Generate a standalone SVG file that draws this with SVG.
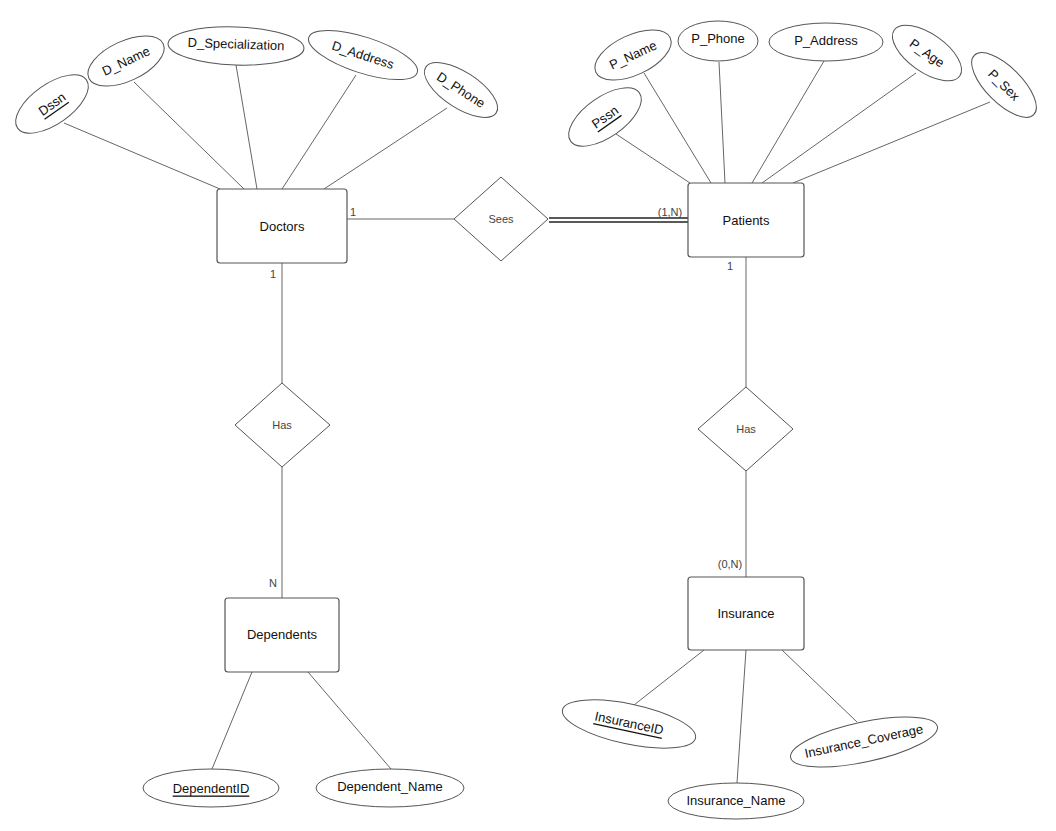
<svg xmlns="http://www.w3.org/2000/svg" width="1056" height="831" viewBox="0 0 1056 831">
<style>
.bg{fill:#ffffff}
.ent{fill:#ffffff;stroke:#555;stroke-width:1.2}
.attr{fill:#ffffff;stroke:#555;stroke-width:1}
.rel{fill:#ffffff;stroke:#555;stroke-width:1;stroke-linejoin:round}
.ln{stroke:#666;stroke-width:1;fill:none}
.dbl{stroke:#222;stroke-width:1.6;fill:none}
text{font-family:"Liberation Sans",Arial,sans-serif;text-anchor:middle;dominant-baseline:central}
.et{font-size:13px;fill:#111}
.at{font-size:13px;fill:#111}
.rt{font-size:11px;fill:#444}
.ct{font-size:11px;fill:#444}
.key{text-decoration:underline}
</style>
<rect class="bg" x="0" y="0" width="1056" height="831"/>
<g id="connectors">
<line class="ln" x1="64" y1="123" x2="220" y2="189"/>
<line class="ln" x1="134" y1="82" x2="244" y2="189"/>
<line class="ln" x1="236" y1="65" x2="257" y2="189"/>
<line class="ln" x1="356" y1="75" x2="282" y2="189"/>
<line class="ln" x1="447" y1="108" x2="324" y2="189"/>
<line class="ln" x1="347" y1="219" x2="454" y2="219"/>
<line class="dbl" x1="549" y1="218" x2="688" y2="218"/>
<line class="dbl" x1="549" y1="222" x2="688" y2="222"/>
<line class="ln" x1="282" y1="263" x2="282" y2="383"/>
<line class="ln" x1="282" y1="467" x2="282" y2="598"/>
<line class="ln" x1="252" y1="672" x2="212" y2="769"/>
<line class="ln" x1="308" y1="672" x2="391" y2="769"/>
<line class="ln" x1="616" y1="134" x2="690" y2="183"/>
<line class="ln" x1="644" y1="73" x2="711" y2="183"/>
<line class="ln" x1="719" y1="62" x2="725" y2="183"/>
<line class="ln" x1="824" y1="61" x2="752" y2="183"/>
<line class="ln" x1="916" y1="73" x2="762" y2="183"/>
<line class="ln" x1="990" y1="102" x2="793" y2="183"/>
<line class="ln" x1="746" y1="257" x2="746" y2="387"/>
<line class="ln" x1="746" y1="471" x2="746" y2="577"/>
<line class="ln" x1="704" y1="650" x2="634" y2="705"/>
<line class="ln" x1="746" y1="650" x2="737" y2="783"/>
<line class="ln" x1="782" y1="650" x2="857" y2="722"/>
<text class="ct" x="353" y="212">1</text>
<text class="ct" x="670" y="212">(1,N)</text>
<text class="ct" x="273" y="274">1</text>
<text class="ct" x="273" y="583">N</text>
<text class="ct" x="730" y="266">1</text>
<text class="ct" x="730" y="564">(0,N)</text>
</g>
<g id="doctors"><rect class="ent" x="217" y="189" width="130" height="74" rx="3"/><text class="et" x="282" y="226">Doctors</text></g>
<g id="patients"><rect class="ent" x="688" y="183" width="116" height="74" rx="3"/><text class="et" x="746" y="220">Patients</text></g>
<g id="dependents"><rect class="ent" x="225" y="598" width="114" height="74" rx="3"/><text class="et" x="282" y="634">Dependents</text></g>
<g id="insurance"><rect class="ent" x="688" y="577" width="116" height="73" rx="3"/><text class="et" x="746" y="613">Insurance</text></g>
<g id="sees"><polygon class="rel" points="501,177 548,219 501,261 454,219"/><text class="rt" x="501" y="219">Sees</text></g>
<g id="has_doc"><polygon class="rel" points="282,383 330,425 282,467 235,425"/><text class="rt" x="282" y="425">Has</text></g>
<g id="has_pat"><polygon class="rel" points="746,387 793,429 746,471 698,429"/><text class="rt" x="746" y="429">Has</text></g>
<g id="dssn" transform="translate(52,104) rotate(-35)"><ellipse class="attr" rx="42" ry="20"/><text class="at key" x="0" y="0">Dssn</text></g>
<g id="d_name" transform="translate(126,61) rotate(-25)"><ellipse class="attr" rx="41" ry="20"/><text class="at" x="0" y="0">D_Name</text></g>
<g id="d_spec" transform="translate(236,46) rotate(2)"><ellipse class="attr" rx="68" ry="19"/><text class="at" x="0" y="-2">D_Specialization</text></g>
<g id="d_address" transform="translate(363,55) rotate(18)"><ellipse class="attr" rx="57" ry="18"/><text class="at" x="0" y="0">D_Address</text></g>
<g id="d_phone" transform="translate(461,90) rotate(33)"><ellipse class="attr" rx="42" ry="18"/><text class="at" x="0" y="0">D_Phone</text></g>
<g id="pssn" transform="translate(605,117) rotate(-35)"><ellipse class="attr" rx="42" ry="20"/><text class="at key" x="0" y="0">Pssn</text></g>
<g id="p_name" transform="translate(633,55) rotate(-25)"><ellipse class="attr" rx="41" ry="20"/><text class="at" x="0" y="0">P_Name</text></g>
<g id="p_phone" transform="translate(718,41)"><ellipse class="attr" rx="40" ry="20"/><text class="at" x="0" y="-3">P_Phone</text></g>
<g id="p_address" transform="translate(826,42)"><ellipse class="attr" rx="57" ry="19"/><text class="at" x="0" y="-2">P_Address</text></g>
<g id="p_age" transform="translate(927,53) rotate(35)"><ellipse class="attr" rx="40" ry="19"/><text class="at" x="0" y="0">P_Age</text></g>
<g id="p_sex" transform="translate(1004,85) rotate(45)"><ellipse class="attr" rx="42" ry="18"/><text class="at" x="0" y="0">P_Sex</text></g>
<g id="dependent_id" transform="translate(211,788)"><ellipse class="attr" rx="68" ry="19"/><text class="at key" x="0" y="0">DependentID</text></g>
<g id="dependent_name" transform="translate(390,788)"><ellipse class="attr" rx="74" ry="19"/><text class="at" x="0" y="-2">Dependent_Name</text></g>
<g id="insurance_id" transform="translate(629,724) rotate(12)"><ellipse class="attr" rx="68" ry="20"/><text class="at key" x="0" y="-1">InsuranceID</text></g>
<g id="insurance_name" transform="translate(736,801)"><ellipse class="attr" rx="68" ry="18"/><text class="at" x="0" y="-1">Insurance_Name</text></g>
<g id="insurance_coverage" transform="translate(864,742) rotate(-12)"><ellipse class="attr" rx="75" ry="20"/><text class="at" x="0" y="-1">Insurance_Coverage</text></g>
</svg>
